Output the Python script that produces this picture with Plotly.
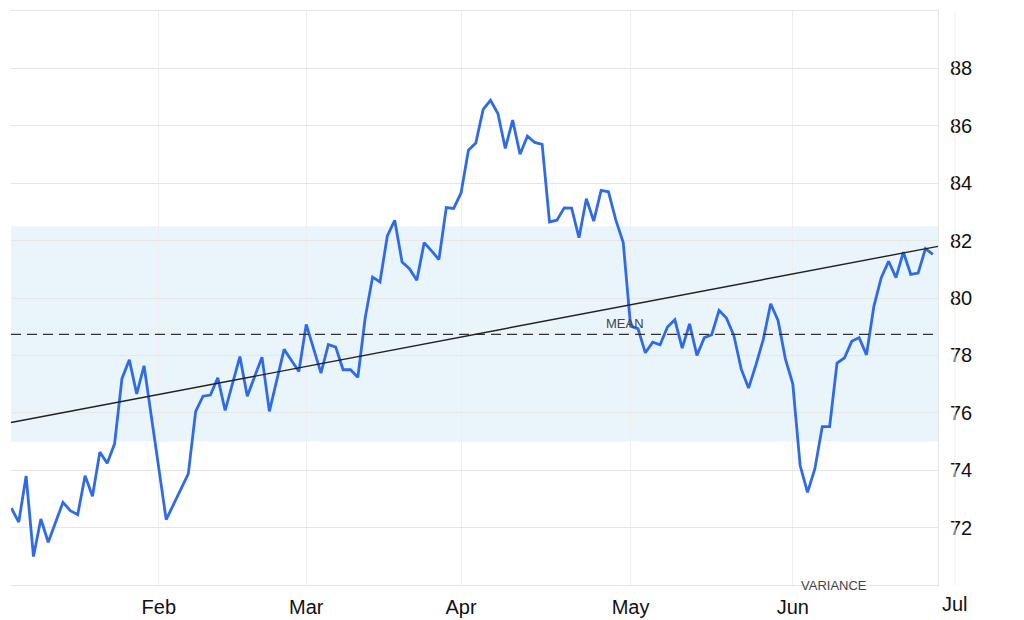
"""
Daily readings with mean line, variance band and linear trend
"""
import plotly.graph_objects as go

# daily readings, one per trading day (Jan .. end of Jun)
values = [
    72.68, 72.19, 73.80, 70.99, 72.30, 71.49, 72.19, 72.88, 72.59, 72.45,
    73.81, 73.09, 74.63, 74.24, 74.92, 77.19, 77.85, 76.66, 77.64, 75.85,
    74.07, 72.28, 72.81, 73.34, 73.87, 76.05, 76.58, 76.62, 77.22, 76.08,
    77.02, 77.96, 76.58, 77.27, 77.94, 76.05, 77.13, 78.21, 77.82, 77.44,
    79.08, 78.23, 77.38, 78.38, 78.29, 77.50, 77.50, 77.24, 79.31, 80.73,
    80.56, 82.16, 82.71, 81.25, 81.02, 80.62, 81.93, 81.64, 81.34, 83.15,
    83.12, 83.66, 85.15, 85.40, 86.57, 86.89, 86.43, 85.21, 86.20, 85.01,
    85.64, 85.42, 85.35, 82.65, 82.71, 83.14, 83.13, 82.10, 83.46, 82.68,
    83.75, 83.70, 82.71, 81.93, 79.02, 78.93, 78.09, 78.46, 78.37, 78.99,
    79.24, 78.25, 79.10, 78.00, 78.62, 78.72, 79.57, 79.30, 78.70, 77.53,
    76.86, 77.67, 78.56, 79.80, 79.22, 77.88, 77.01, 74.16, 73.23, 74.05,
    75.52, 75.52, 77.73, 77.91, 78.49, 78.62, 78.02, 79.71, 80.71, 81.28,
    80.71, 81.60, 80.82, 80.87, 81.72, 81.52,
]
day_index = list(range(len(values)))

# first trading day of each month (position in the series)
month_start = [20, 40, 61, 84, 106, 128]
month_labels = ['Feb', 'Mar', 'Apr', 'May', 'Jun', 'Jul']

mean_value = 78.73
variance_band = [75.0, 82.5]
trend_ends = [75.66, 81.80]

FONT = 'Liberation Sans, Arial, sans-serif'
x_range = [-0.05, 125.7]

fig = go.Figure()
fig.add_trace(go.Scatter(x=day_index, y=values, mode='lines',
                         line=dict(color='#2f6be8', width=2.8),
                         hoverinfo='x+y', showlegend=False))

# variance band
fig.add_shape(type='rect', xref='paper', x0=0, x1=1, y0=variance_band[0], y1=variance_band[1],
              fillcolor='#eaf4fb', line_width=0, layer='below')
# mean line
fig.add_shape(type='line', xref='paper', x0=0, x1=1, y0=mean_value, y1=mean_value,
              line=dict(color='#333333', width=1.2, dash='10px,6px'))
# trend
fig.add_shape(type='line', xref='paper', x0=0, x1=1, y0=trend_ends[0], y1=trend_ends[1],
              line=dict(color='#222222', width=1.4))

# the last month tick sits just past the plotted days
jul_paper = (month_start[-1] - x_range[0]) / (x_range[1] - x_range[0])
fig.add_shape(type='line', xref='paper', yref='paper', x0=jul_paper, x1=jul_paper, y0=0, y1=1,
              line=dict(color='#eeeeee', width=1))
fig.add_annotation(xref='paper', yref='paper', x=jul_paper, y=0, xanchor='center',
                   yanchor='top', yshift=-6, text=month_labels[-1], showarrow=False,
                   font=dict(family=FONT, size=20, color='#111111'))

fig.add_annotation(x=83.2, y=mean_value, xanchor='center', yanchor='bottom', yshift=1,
                   text='MEAN', showarrow=False,
                   font=dict(family=FONT, size=13, color='#444444'))
fig.add_annotation(x=111.6, xref='x', yref='paper', y=0, xanchor='center', yanchor='middle',
                   text='VARIANCE', showarrow=False,
                   font=dict(family=FONT, size=13, color='#444444'))

fig.update_xaxes(range=x_range, tickvals=month_start[:-1], ticktext=month_labels[:-1],
                 showgrid=True, gridcolor='#eeeeee', gridwidth=1, zeroline=False,
                 showline=True, linecolor='#e4e4e4', linewidth=1, mirror=True,
                 ticks='', ticklabelstandoff=4, automargin=False,
                 tickfont=dict(family=FONT, size=20, color='#111111'))
fig.update_yaxes(range=[70, 90], tickvals=list(range(72, 90, 2)), side='right',
                 showgrid=True, gridcolor='#e6e6e6', gridwidth=1, zeroline=False,
                 showline=True, linecolor='#e4e4e4', linewidth=1,
                 ticks='', ticklabelstandoff=7, automargin=False,
                 tickfont=dict(family=FONT, size=20, color='#111111'))
# page body adds 8px around the figure
fig.layout.update(width=1016, height=612, plot_bgcolor='white', paper_bgcolor='white',
                  margin=dict(l=3, r=86, t=3, b=35), showlegend=False)

fig.write_html('out.html')
